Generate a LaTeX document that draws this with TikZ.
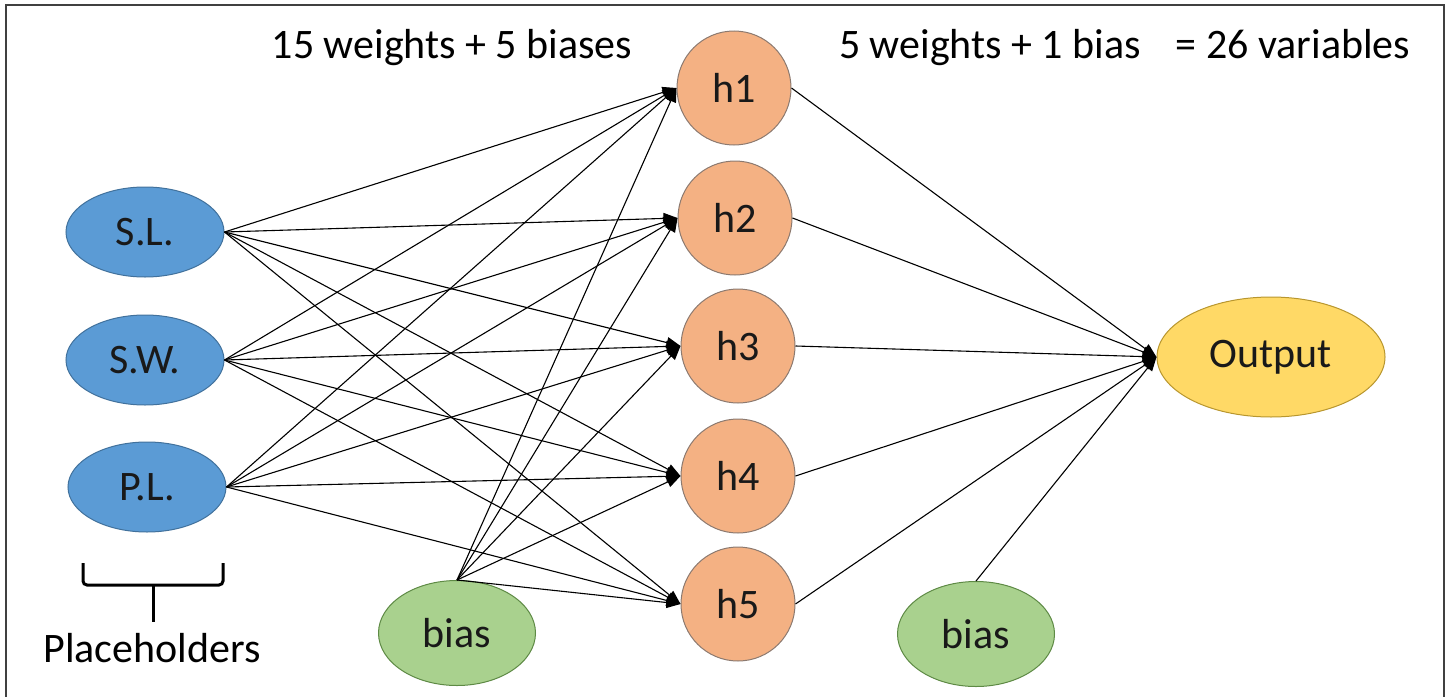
\documentclass[tikz,border=0pt]{standalone}
\usepackage{fontspec}
\setmainfont{Carlito}
\usetikzlibrary{shapes.geometric,arrows.meta}
\definecolor{inblue}{HTML}{5B9BD5}
\definecolor{inblueb}{HTML}{41719C}
\definecolor{hidor}{HTML}{F4B183}
\definecolor{hidorb}{HTML}{8C7A70}
\definecolor{outy}{HTML}{FFD966}
\definecolor{outyb}{HTML}{B8962E}
\definecolor{biasg}{HTML}{A9D18E}
\definecolor{biasgb}{HTML}{5E8A45}
\begin{document}
\begin{tikzpicture}[x=1pt,y=-1pt,
  base/.style={ellipse, inner sep=0pt, font=\fontsize{42}{50}\selectfont, text=black!90, line width=1pt},
  inp/.style={base, fill=inblue, draw=inblueb, minimum width=158pt, minimum height=90pt},
  hid/.style={base, fill=hidor, draw=hidorb, minimum width=114pt, minimum height=114pt},
  outn/.style={base, fill=outy, draw=outyb, minimum width=228pt, minimum height=120pt},
  biasn/.style={base, fill=biasg, draw=biasgb, minimum width=157pt, minimum height=105pt},
  txt/.style={inner sep=0pt, font=\fontsize{42}{50}\selectfont, anchor=base},
  arr/.style={line width=1.1pt, -{Triangle[length=14pt,width=11pt]}},
  brace/.style={line width=3pt},
  frame/.style={line width=1.5pt, draw=black!75}]
\useasboundingbox (0,0) rectangle (1448,696);
\draw[frame] (6,700) -- (6,5) -- (1444,5) -- (1444,700);

\node[inp] (sl) at (145,232) {S.L.};
\node[inp] (sw) at (145,360) {S.W.};
\node[inp] (pl) at (147,487) {P.L.};

\node[hid] (h1) at (734,88) {h1};
\node[hid] (h2) at (735,218) {h2};
\node[hid] (h3) at (738,346) {h3};
\node[hid] (h4) at (738,476) {h4};
\node[hid] (h5) at (738,604) {h5};

\node[outn] (out) at (1271,357) {Output};
\node[biasn] (b1) at (457,633) {bias};
\node[biasn] (b2) at (976,634) {bias};

\node[txt] (t1) at (452,58) {15 weights + 5 biases};
\node[txt] (t2) at (990,58) {5 weights + 1 bias};
\node[txt] (t3) at (1293,58) {= 26 variables};
\node[txt] (ph) at (152,662) {Placeholders};

\draw[brace, rounded corners=4pt] (83,563) -- (83,585) -- (223,585) -- (223,563);
\coordinate (bt) at (153,585);
\coordinate (bb) at (153,622);
\draw[brace] (bt) -- (bb);

\foreach \s in {sl,sw,pl} {
  \foreach \h in {h1,h2,h3,h4,h5} {
    \draw[arr] (\s.east) -- (\h.west);
  }
}
\foreach \h in {h1,h2,h3,h4,h5} {
  \draw[arr] (b1.north) -- (\h.west);
  \draw[arr] (\h.east) -- (out.west);
}
\draw[arr] (b2.north) -- (out.west);
\end{tikzpicture}
\end{document}
